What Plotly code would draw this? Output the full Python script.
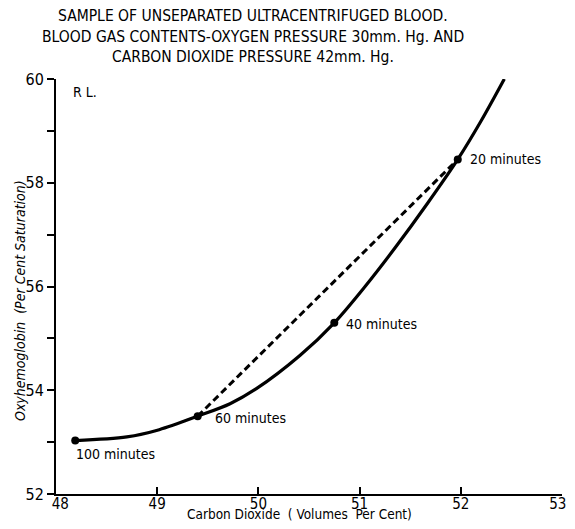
import plotly.graph_objects as go

# Smooth curve (Carbon Dioxide vol %, Oxyhemoglobin % saturation)
curve_x = [48.19, 48.70, 49.02, 49.40, 49.72, 49.98, 50.41, 50.75, 51.05, 51.36, 51.67, 51.97, 52.20, 52.43]
curve_y = [53.03, 53.10, 53.24, 53.50, 53.74, 54.03, 54.67, 55.30, 55.99, 56.77, 57.60, 58.45, 59.19, 60.00]

# Measured points
point_minutes = ["100 minutes", "60 minutes", "40 minutes", "20 minutes"]
point_x = [48.19, 49.40, 50.75, 51.97]
point_y = [53.03, 53.50, 55.30, 58.45]

# Label positions
label_x = [48.18, 49.55, 50.85, 52.07]
label_y = [52.77, 53.47, 55.27, 58.45]

# Dashed straight line: 60 minutes -> 20 minutes
dash_x = [49.40, 51.97]
dash_y = [53.50, 58.45]

x_ticks = [48, 49, 50, 51, 52, 53]
x_ticktext = ["\u00a0\u00a048", "49", "50", "51", "52", "53\u00a0\u00a0"]
y_ticks = [52, 53, 54, 55, 56, 57, 58, 59, 60]
y_ticktext = ["52", "", "54", "", "56", "", "58", "", "60"]

title_lines = [
    "SAMPLE OF UNSEPARATED ULTRACENTRIFUGED BLOOD.",
    "BLOOD GAS CONTENTS-OXYGEN PRESSURE 30mm. Hg. AND",
    "CARBON DIOXIDE PRESSURE 42mm. Hg.",
]

FONT = "DejaVu Sans Condensed, Liberation Sans Narrow, Arial, sans-serif"

# page body has an 8px margin on every side; figure + margins = 575 x 529
W, H = 559, 513
L, R, T, B = 48, 5, 71, 27
PW = W - L - R
PH = H - T - B


def px(xp):
    return (xp - 8 - L) / PW


def py(yp):
    return (H - B - (yp - 8)) / PH


fig = go.Figure()
fig.add_trace(go.Scatter(x=curve_x, y=curve_y, mode="lines",
                         line=dict(color="black", width=3.2, shape="spline", smoothing=0.9),
                         hoverinfo="skip", showlegend=False))
fig.add_trace(go.Scatter(x=dash_x, y=dash_y, mode="lines",
                         line=dict(color="black", width=3, dash="7px,4px"),
                         showlegend=False))
fig.add_trace(go.Scatter(x=point_x, y=point_y, mode="markers",
                         marker=dict(color="black", size=8),
                         text=point_minutes, showlegend=False))

annotations = []
for t, lx, ly in zip(point_minutes, label_x, label_y):
    annotations.append(dict(x=lx, y=ly, xref="x", yref="y", text=t, showarrow=False,
                            xanchor="left", yanchor="middle",
                            font=dict(family=FONT, size=14, color="black")))
annotations.append(dict(x=48.15, y=59.74, xref="x", yref="y", text="R L.", showarrow=False,
                        xanchor="left", yanchor="middle",
                        font=dict(family=FONT, size=14, color="black")))

title_y_px = [16, 37, 57]
for line, ypx in zip(title_lines, title_y_px):
    annotations.append(dict(x=px(253), y=py(ypx), xref="paper", yref="paper",
                            text=line, showarrow=False, xanchor="center", yanchor="middle",
                            font=dict(family=FONT, size=15.5, color="black")))

annotations.append(dict(x=px(299), y=py(514), xref="paper", yref="paper",
                        text="Carbon Dioxide  ( Volumes  Per Cent)", showarrow=False,
                        xanchor="center", yanchor="middle",
                        font=dict(family=FONT, size=13.5, color="black")))
annotations.append(dict(x=px(20), y=py(301), xref="paper", yref="paper",
                        text="<i>Oxyhemoglobin  (Per Cent Saturation)</i>", showarrow=False,
                        textangle=-90, xanchor="center", yanchor="middle",
                        font=dict(family=FONT, size=14, color="black")))

fig.update_layout(
    width=W, height=H,
    margin=dict(l=L, r=R, t=T, b=B, autoexpand=False),
    paper_bgcolor="white", plot_bgcolor="white",
    showlegend=False,
    annotations=annotations,
    xaxis=dict(range=[48, 53], tickvals=x_ticks, ticktext=x_ticktext,
               ticks="inside", ticklen=7, tickwidth=1.5, tickcolor="black",
               ticklabelstandoff=-5, ticklabeloverflow="allow", automargin=False,
               showline=True, linecolor="black", linewidth=2, showgrid=False, zeroline=False,
               tickfont=dict(family=FONT, size=15, color="black")),
    yaxis=dict(range=[52, 60], tickvals=y_ticks, ticktext=y_ticktext,
               ticks="outside", ticklen=7, tickwidth=1.5, tickcolor="black",
               automargin=False,
               showline=True, linecolor="black", linewidth=2, showgrid=False, zeroline=False,
               tickfont=dict(family=FONT, size=16, color="black")),
)

fig.write_html("out.html")
